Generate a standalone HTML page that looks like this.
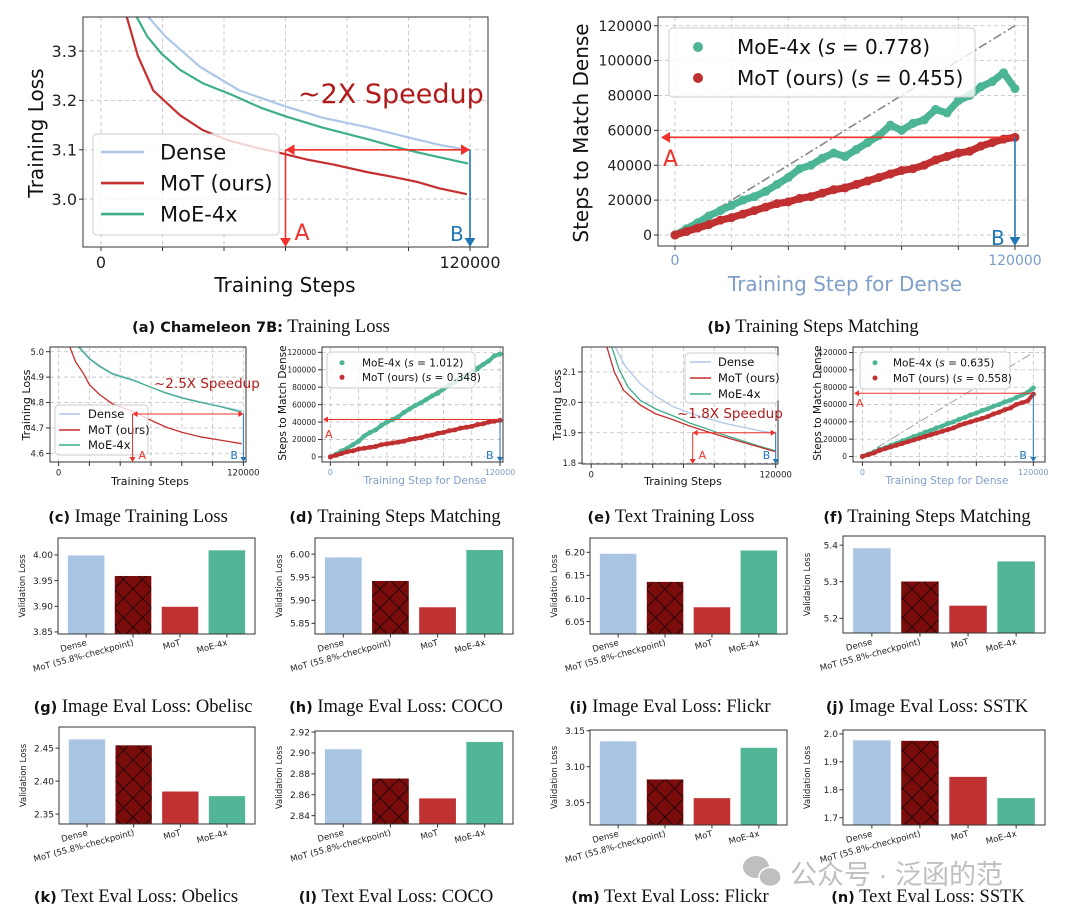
<!DOCTYPE html>
<html><head><meta charset="utf-8"><style>
html,body{margin:0;padding:0;background:#fff;}
svg{display:block;}
text{font-family:"DejaVu Sans","Liberation Sans",sans-serif;}
.cap{font-family:"Liberation Serif",serif;font-size:18.5px;fill:#111;}
.capb{font-family:"DejaVu Sans","Liberation Sans",sans-serif;font-weight:bold;font-size:14.5px;}
</style></head><body>
<svg id="fig" width="1080" height="914" viewBox="0 0 1080 914" xmlns="http://www.w3.org/2000/svg">
<defs>
<pattern id="hatch" patternUnits="userSpaceOnUse" width="19" height="19">
<rect width="19" height="19" fill="#7b0c0c"/>
<path d="M0,0 L19,19 M19,0 L0,19" stroke="#1a0000" stroke-width="0.9"/>
</pattern>
</defs>
<g>
<text class="cap" x="261" y="332" text-anchor="middle"><tspan class="capb">(a)  Chameleon 7B:</tspan> Training Loss</text>
<text class="cap" x="813" y="332" text-anchor="middle"><tspan class="capb">(b)</tspan>  Training Steps Matching</text>
<text class="cap" x="138" y="522" text-anchor="middle"><tspan class="capb">(c)</tspan>  Image Training Loss</text>
<text class="cap" x="395" y="522" text-anchor="middle"><tspan class="capb">(d)</tspan>  Training Steps Matching</text>
<text class="cap" x="671" y="522" text-anchor="middle"><tspan class="capb">(e)</tspan>  Text Training Loss</text>
<text class="cap" x="927" y="522" text-anchor="middle"><tspan class="capb">(f)</tspan>  Training Steps Matching</text>
<text class="cap" x="143" y="712" text-anchor="middle"><tspan class="capb">(g)</tspan>  Image Eval Loss:  Obelisc</text>
<text class="cap" x="396" y="712" text-anchor="middle"><tspan class="capb">(h)</tspan>  Image Eval Loss:  COCO</text>
<text class="cap" x="670" y="712" text-anchor="middle"><tspan class="capb">(i)</tspan>  Image Eval Loss:  Flickr</text>
<text class="cap" x="927" y="712" text-anchor="middle"><tspan class="capb">(j)</tspan>  Image Eval Loss:  SSTK</text>
<text class="cap" x="136" y="902" text-anchor="middle"><tspan class="capb">(k)</tspan>  Text Eval Loss:  Obelics</text>
<text class="cap" x="396" y="902" text-anchor="middle"><tspan class="capb">(l)</tspan>  Text Eval Loss:  COCO</text>
<text class="cap" x="670" y="902" text-anchor="middle"><tspan class="capb">(m)</tspan>  Text Eval Loss:  Flickr</text>
<text class="cap" x="928" y="902" text-anchor="middle"><tspan class="capb">(n)</tspan>  Text Eval Loss:  SSTK</text>
</g>
<g opacity="0.75">
<ellipse cx="756" cy="867" rx="13" ry="11" fill="#aaa"/>
<ellipse cx="770" cy="877" rx="11" ry="9.5" fill="#aaa" stroke="#fff" stroke-width="1.5"/>
<text x="790" y="884" font-size="27" fill="#aaa" style="font-family:'Liberation Sans','Noto Sans CJK SC',sans-serif">公众号 · 泛函的范</text>
</g>
</svg>
<script>
// ---------------- DATA ----------------
const aDenseX = [15.4,21,32.2,45,60.4,72,86.4,100,110,119];
const aDenseY = [3.369,3.329,3.268,3.22,3.187,3.165,3.146,3.125,3.11,3.10];
const aMotX = [8.4,12,17,25.7,33,40.9,50,59.3,67,75.6,86.4,95,102.7,110,119];
const aMotY = [3.369,3.29,3.22,3.17,3.14,3.12,3.105,3.092,3.08,3.07,3.055,3.045,3.035,3.022,3.01];
const aMoeX = [11.6,15,19.6,25.7,33,43.1,52,60.4,72,86.4,95,102.7,110,119.4];
const aMoeY = [3.369,3.33,3.295,3.262,3.235,3.21,3.185,3.167,3.145,3.122,3.107,3.095,3.085,3.072];
const aYTicks = ["3.0","3.1","3.2","3.3"];
const cDenseX = [13.8,20,26.8,35,48.5,60,70.2,80,91.8,105,118.9];
const cDenseY = [5.018,4.975,4.945,4.915,4.89,4.86,4.838,4.82,4.803,4.785,4.768];
const cMoeX = [13.0,20,26.8,35,48.5,60,70.2,80,91.8,105,118.9];
const cMoeY = [5.018,4.972,4.941,4.912,4.887,4.86,4.836,4.818,4.801,4.784,4.762];
const cMotX = [7.3,11,16,20,26.8,35,48.5,60,70.2,80,91.8,105,118.9];
const cMotY = [5.018,4.96,4.915,4.87,4.83,4.795,4.764,4.73,4.702,4.683,4.665,4.652,4.638];
const cYTicks = ["4.6","4.7","4.8","4.9","5.0"];
const eDenseX = [15.6,22,31.8,42,53.5,64,75.1,86,96.8,108,119.5];
const eDenseY = [2.182,2.12,2.062,2.02,1.985,1.965,1.947,1.932,1.920,1.908,1.898];
const eMotX = [10.2,15,21,31.8,42,53.5,64,75.1,86,96.8,108,119.5];
const eMotY = [2.182,2.10,2.040,1.991,1.962,1.942,1.922,1.904,1.887,1.871,1.855,1.838];
const eMoeX = [13.4,18,24,31.8,42,53.5,64,75.1,86,96.8,108,119.5];
const eMoeY = [2.182,2.11,2.05,2.007,1.978,1.955,1.932,1.913,1.893,1.876,1.858,1.841];
const eYTicks = ["1.8","1.9","2.0","2.1"];
const matchX = [0,4,8,12,16,20,24,28,32,36,40,44,48,52,56,60,64,68,72,76,80,84,88,92,96,100,104,108,112,116,120];
const bMoe = [0,3.5,7,11,14,17,20,22,25,29,33,38,40,44,47,45,49,53,57,63,60,64,66,72,70,77,80,85,88,93,84];
const bMot = [0,2,4,6,8.5,10,12,14,16,18,19,21,22,24,26,27,29,31,33,35,37,38,40,43,45,47,48,51,53,55,56];
const dMoe = [0,3,7,10,14,18,24,28,31,36,40,43,46,51,55,59,62,66,70,73,78,82,86,90,93,97,101,106,110,116,118];
const dMot = [0,2,4,6,7,9,10,11,12,14,15,16,17,18,20,21,22,24,25,27,28,30,31,33,34,35,37,38,40,41,42];
const fMoe = [0,2.5,5,8,10,13,15,18,20,23,25,28,30,33,35,38,40,43,45,48,50,53,55,58,60,63,65,68,71,74,79];
const fMot = [0,2,4,7,9,11,13,15,17,19,21,23,25,27,29,31,33,36,38,40,42,44,46,49,51,54,56,60,62,64,72];
const matchYTicks = ["0","20000","40000","60000","80000","100000","120000"];
const barCats = ["Dense","MoT (55.8%-checkpoint)","MoT","MoE-4x"];
const gVals = [4.00,3.96,3.90,4.01];
const hVals = [5.994,5.943,5.886,6.01];
const iVals = [6.198,6.137,6.082,6.205];
const jVals = [5.393,5.302,5.236,5.357];
const kVals = [2.464,2.455,2.385,2.378];
const lVals = [2.904,2.876,2.857,2.911];
const mVals = [3.136,3.083,3.057,3.127];
const nVals = [1.979,1.977,1.848,1.772];
const gTicks = ["3.85","3.90","3.95","4.00"];
const hTicks = ["5.85","5.90","5.95","6.00"];
const iTicks = ["6.05","6.10","6.15","6.20"];
const jTicks = ["5.2","5.3","5.4"];
const kTicks = ["2.35","2.40","2.45"];
const lTicks = ["2.84","2.86","2.88","2.90","2.92"];
const mTicks = ["3.05","3.10","3.15"];
const nTicks = ["1.7","1.8","1.9","2.0"];

// ---------------- DRAWING ----------------
const NS = "http://www.w3.org/2000/svg";
const svg = document.getElementById('fig');
function mk(tag, attrs, parent){
  const e = document.createElementNS(NS, tag);
  for (const k in attrs) e.setAttribute(k, attrs[k]);
  (parent || svg).appendChild(e);
  return e;
}
const C = {dense:"#aec7e8", mot:"#c62f2f", moe:"#3fae8a", dot_moe:"#4cb595", dot_mot:"#c03030", blue:"#1f77b4", red:"#f0302a", tick:"#7a9cc6"};
let clipId = 0;
function scales(P){
  return {
    sx: v => P.L + (v - P.xmin) / (P.xmax - P.xmin) * (P.R - P.L),
    sy: v => P.B - (v - P.ymin) / (P.ymax - P.ymin) * (P.B - P.T)
  };
}
function frame(P, g){
  const r = mk('rect', {x:P.L, y:P.T, width:P.R-P.L, height:P.B-P.T, fill:'none', stroke:'#333', 'stroke-width':1}, g);
  
  
}
function clip(P){
  clipId++;
  const cp = mk('clipPath', {id:'cp'+clipId});
  mk('rect', {x:P.L, y:P.T, width:P.R-P.L, height:P.B-P.T}, cp);
  return 'url(#cp'+clipId+')';
}
function gridAndTicks(P, g, yTicks, fs, xfs, xcolor){
  const s = scales(P);
  for (let v = 0; v <= 120; v += 20){
    const x = s.sx(v);
    const gl = mk('line', {x1:x, x2:x, y1:P.T, y2:P.B, stroke:'#c8c8c8', 'stroke-dasharray':'4,3', 'stroke-width':0.9}, g);
    
    
    mk('line', {x1:x, x2:x, y1:P.B, y2:P.B+4, stroke:'#333'}, g);
  }
  const t0 = mk('text', {x:s.sx(0), y:P.B+xfs+5, 'font-size':xfs, 'text-anchor':'middle', fill:xcolor}, g);
  t0.textContent = "0";
  
  
  const t1 = mk('text', {x:s.sx(120), y:P.B+xfs+5, 'font-size':xfs, 'text-anchor':'middle', fill:xcolor}, g);
  t1.textContent = "120000";
  
  
  yTicks.forEach(lbl => {
    const v = P.ydiv ? parseFloat(lbl) / P.ydiv : parseFloat(lbl);
    const y = s.sy(v);
    const gl = mk('line', {x1:P.L, x2:P.R, y1:y, y2:y, stroke:'#c8c8c8', 'stroke-dasharray':'4,3', 'stroke-width':0.9}, g);
    
    
    mk('line', {x1:P.L-4, x2:P.L, y1:y, y2:y, stroke:'#333'}, g);
    const t = mk('text', {x:P.L-6, y:y+fs*0.36, 'font-size':fs, 'text-anchor':'end', fill:'#222'}, g);
    t.textContent = lbl;
    
    
  });
}
function label(txt, x, y, fs, rot, color, g, name){
  const t = mk('text', {x:x, y:y, 'font-size':fs, 'text-anchor':'middle', fill:color||'#111',
    transform: rot ? 'rotate(-90 '+x+' '+y+')' : ''}, g);
  t.textContent = txt;
  
  
  return t;
}
function lineSeries(P, g, xs, ys, color, w, name){
  const s = scales(P);
  const pts = xs.map((x,i) => s.sx(x).toFixed(1)+','+s.sy(ys[i]).toFixed(1)).join(' ');
  const pl = mk('polyline', {points:pts, fill:'none', stroke:color, 'stroke-width':w, 'stroke-linejoin':'round', 'clip-path':P.cp}, g);
  
  
}
function scatterSeries(P, g, xs, ys, color, r, name){
  const s = scales(P);
  const sg = mk('g', {'clip-path':P.cp}, g);
  
  
  const pts = xs.map((x,i) => s.sx(x).toFixed(1)+','+s.sy(ys[i]).toFixed(1)).join(' ');
  mk('polyline', {points:pts, fill:'none', stroke:color, 'stroke-width':r*1.6, 'stroke-linejoin':'round', 'stroke-linecap':'round'}, sg);
  xs.forEach((x,i) => {
    const c = mk('circle', {cx:s.sx(x), cy:s.sy(ys[i]), r:r, fill:color}, sg);
    
    
  });
}
function arrowHead(x, y, dir, size, color, g){
  let p;
  if (dir==='down') p = [[x,y],[x-size*0.6,y-size],[x+size*0.6,y-size]];
  if (dir==='left') p = [[x,y],[x+size,y-size*0.6],[x+size,y+size*0.6]];
  if (dir==='right') p = [[x,y],[x-size,y-size*0.6],[x-size,y+size*0.6]];
  const a = mk('polygon', {points:p.map(q=>q.join(',')).join(' '), fill:color}, g);
  
  
}
function ln(x1,y1,x2,y2,color,w,g,name){
  const l = mk('line', {x1:x1,y1:y1,x2:x2,y2:y2,stroke:color,'stroke-width':w}, g);
  
  
}
function hand(txt, x, y, fs, color, g, name){
  const t = mk('text', {x:x, y:y, 'font-size':fs, fill:color, 'font-family':'"Liberation Sans Narrow","Liberation Sans",sans-serif'}, g);
  t.textContent = txt;
  
  
}
function legendLines(g, box, items, fs, lx, tx, ys){
  const r = mk('rect', {x:box[0], y:box[1], width:box[2], height:box[3], rx:4, fill:'#fff', 'fill-opacity':0.8, stroke:'#ccc'}, g);
  
  
  items.forEach((it,i) => {
    const l = mk('line', {x1:lx[0], x2:lx[1], y1:ys[i], y2:ys[i], stroke:it[1], 'stroke-width':fs/8}, g);
    
    
    const t = mk('text', {x:tx, y:ys[i]+fs*0.36, 'font-size':fs, fill:'#111'}, g);
    t.textContent = it[0];
    
    
  });
}
function legendDots(g, box, items, fs, dx, tx, ys, r){
  const rc = mk('rect', {x:box[0], y:box[1], width:box[2], height:box[3], rx:4, fill:'#fff', 'fill-opacity':0.8, stroke:'#ccc'}, g);
  
  
  items.forEach((it,i) => {
    const c = mk('circle', {cx:dx, cy:ys[i], r:r, fill:it[2]}, g);
    
    
    const t = mk('text', {x:tx, y:ys[i]+fs*0.36, 'font-size':fs, fill:'#111'}, g);
    
    
    const t1 = mk('tspan', {}, t); t1.textContent = it[0] + ' (';
    const t2 = mk('tspan', {'font-style':'italic'}, t); t2.textContent = 's';
    const t3 = mk('tspan', {}, t); t3.textContent = ' = ' + it[1] + ')';
  });
}
function lossPanel(P, name, yTicks, series, fs, xfs, labels){
  const g = mk('g', {});
  
  
  P.cp = clip(P);
  gridAndTicks(P, g, yTicks, fs, xfs, '#222');
  series.forEach(sr => lineSeries(P, g, sr[0], sr[1], sr[2], sr[3], sr[4]));
  frame(P, g);
  label('Training Steps', labels.xl[0], labels.xl[1], labels.xfs, false, '#111', g, 'x-axis-title');
  label('Training Loss', labels.yl[0], labels.yl[1], labels.xfs, true, '#111', g, 'y-axis-title');
  return g;
}
function matchPanel(P, name, moe, mot, r, fs, xfs, labels){
  const g = mk('g', {});
  
  
  P.cp = clip(P);
  P.ydiv = 1000;
  gridAndTicks(P, g, matchYTicks, fs, xfs, C.tick);
  const s = scales(P);
  const d = mk('line', {x1:s.sx(0), y1:s.sy(0), x2:s.sx(120), y2:s.sy(120), stroke:'#888', 'stroke-width':labels.dw, 'stroke-dasharray':'9,3,2,3', 'clip-path':P.cp}, g);
  
  
  scatterSeries(P, g, matchX, moe, C.dot_moe, r, 'moe-4x-points');
  scatterSeries(P, g, matchX, mot, C.dot_mot, r, 'mot-points');
  frame(P, g);
  label('Training Step for Dense', labels.xl[0], labels.xl[1], labels.xfs, false, '#7f9fc8', g, 'x-axis-title');
  label('Steps to Match Dense', labels.yl[0], labels.yl[1], labels.xfs, true, '#111', g, 'y-axis-title');
  return g;
}

// (a)
const PA = {L:83,R:488,T:17,B:247,xmin:-5.854,xmax:125.854,ymin:2.903,ymax:3.369};
const gA = lossPanel(PA, 'panel-a-training-loss', aYTicks,
  [[aDenseX,aDenseY,C.dense,2.2,'dense-line'],[aMoeX,aMoeY,C.moe,2.2,'moe-4x-line'],[aMotX,aMotY,C.mot,2.2,'mot-line']],
  16, 16, {xl:[285,292], yl:[43,133], xfs:20});
legendLines(gA, [93,134,186,101], [['Dense',C.dense],['MoT (ours)',C.mot],['MoE-4x',C.moe]], 21, [101,144], 160, [152,183,214]);
(function(){
  const s = scales(PA); const xa = s.sx(60), xb = s.sx(120), y = s.sy(3.1);
  ln(xa,y,xb,y,C.red,1.6,gA,'speedup-arrow');
  arrowHead(xa,y,'left',9,C.red,gA); arrowHead(xb,y,'right',9,C.red,gA);
  ln(xa,y,xa,PA.B-2,C.red,1.6,gA,'a-arrow'); arrowHead(xa,PA.B,'down',9,C.red,gA);
  ln(xb,y,xb,PA.B-2,C.blue,1.6,gA,'b-arrow'); arrowHead(xb,PA.B,'down',9,C.blue,gA);
  hand('A', xa+9, 240, 22, C.red, gA, 'label-A');
  hand('B', xb-20, 241, 20, C.blue, gA, 'label-B');
  hand('~2X Speedup', 298, 103, 27, '#b01a1a', gA, 'speedup-annotation');
})();

// (b)
const PB = {L:658,R:1028,T:17,B:246,xmin:-6,xmax:124.6,ymin:-6.3,ymax:125};
const gB = matchPanel(PB, 'panel-b-steps-matching', bMoe, bMot, 4.5, 14, 14, {xl:[845,291], yl:[588,133], xfs:20, dw:1.6});
legendDots(gB, [669,28,306,69], [['MoE-4x','0.778',C.dot_moe],['MoT (ours)','0.455',C.dot_mot]], 20, 698, 737, [47,78], 5);
(function(){
  const s = scales(PB); const xb = s.sx(120), y = s.sy(56);
  ln(PB.L+10,y,xb,y,C.red,1.6,gB,'a-arrow'); arrowHead(PB.L+3,y,'left',9,C.red,gB);
  ln(xb,y,xb,PB.B-2,C.blue,1.6,gB,'b-arrow'); arrowHead(xb,PB.B,'down',9,C.blue,gB);
  hand('A', PB.L+5, 166, 22, C.red, gB, 'label-A');
  hand('B', xb-24, 245, 20, C.blue, gB, 'label-B');
})();

// (c)
const PCc = {L:50,R:246,T:347,B:462,xmin:-5.6,xmax:121.7,ymin:4.566,ymax:5.0185};
const gC = lossPanel(PCc, 'panel-c-image-training-loss', cYTicks,
  [[cDenseX,cDenseY,C.dense,1.3,'dense-line'],[cMoeX,cMoeY,C.moe,1.3,'moe-4x-line'],[cMotX,cMotY,C.mot,1.3,'mot-line']],
  8.5, 8.5, {xl:[150,485], yl:[30,405], xfs:11});
legendLines(gC, [55,405,93,50], [['Dense',C.dense],['MoT (ours)',C.mot],['MoE-4x',C.moe]], 11.5, [59,80], 88, [414,430,445]);
(function(){
  const s = scales(PCc); const xa = s.sx(48), xb = s.sx(120), y = 414;
  ln(xa,y,xb,y,C.red,1,gC,'speedup-arrow');
  arrowHead(xa,y,'left',5,C.red,gC); arrowHead(xb,y,'right',5,C.red,gC);
  ln(xa,y,xa,PCc.B-2,C.red,1,gC,'a-arrow'); arrowHead(xa,PCc.B,'down',5,C.red,gC);
  ln(xb,y,xb,PCc.B-2,C.blue,1,gC,'b-arrow'); arrowHead(xb,PCc.B,'down',5,C.blue,gC);
  hand('A', xa+6, 459, 11, C.red, gC, 'label-A');
  hand('B', xb-13, 459, 11, C.blue, gC, 'label-B');
  hand('~2.5X Speedup', 154, 388, 13.5, '#b01a1a', gC, 'speedup-annotation');
})();

// (d)
const PD = {L:322,R:503,T:347,B:462,xmin:-5.9,xmax:122.1,ymin:-5.8,ymax:126.1};
const gD = matchPanel(PD, 'panel-d-steps-matching', dMoe, dMot, 2.5, 7.5, 8, {xl:[425,484], yl:[286,403], xfs:10.5, dw:1});
legendDots(gD, [327,352,148,36], [['MoE-4x','1.012',C.dot_moe],['MoT (ours)','0.348',C.dot_mot]], 10.5, 342, 362, [362.7,377.3], 2.5);
(function(){
  const s = scales(PD); const xb = s.sx(120), y = s.sy(43);
  ln(PD.L+6,y,xb,y,C.red,1,gD,'a-arrow'); arrowHead(PD.L+1,y,'left',5,C.red,gD);
  ln(xb,y,xb,PD.B-2,C.blue,1,gD,'b-arrow'); arrowHead(xb,PD.B,'down',5,C.blue,gD);
  hand('A', PD.L+3, 438, 11, C.red, gD, 'label-A');
  hand('B', xb-14, 459, 11, C.blue, gD, 'label-B');
})();

// (e)
const PE = {L:582,R:778,T:347,B:464,xmin:-6,xmax:121.5,ymin:1.797,ymax:2.182};
const gE = lossPanel(PE, 'panel-e-text-training-loss', eYTicks,
  [[eDenseX,eDenseY,C.dense,1.3,'dense-line'],[eMoeX,eMoeY,C.moe,1.3,'moe-4x-line'],[eMotX,eMotY,C.mot,1.3,'mot-line']],
  8.5, 8.5, {xl:[683,485], yl:[561,405], xfs:11});
legendLines(gE, [685,353,93,50], [['Dense',C.dense],['MoT (ours)',C.mot],['MoE-4x',C.moe]], 11.5, [690,711], 718, [362,378,394]);
(function(){
  const s = scales(PE); const xa = s.sx(66), xb = s.sx(120), y = s.sy(1.9);
  ln(xa,y,xb,y,C.red,1,gE,'speedup-arrow');
  arrowHead(xa,y,'left',5,C.red,gE); arrowHead(xb,y,'right',5,C.red,gE);
  ln(xa,y,xa,PE.B-2,C.red,1,gE,'a-arrow'); arrowHead(xa,PE.B,'down',5,C.red,gE);
  ln(xb,y,xb,PE.B-2,C.blue,1,gE,'b-arrow'); arrowHead(xb,PE.B,'down',5,C.blue,gE);
  hand('A', xa+6, 459, 11, C.red, gE, 'label-A');
  hand('B', xb-13, 459, 11, C.blue, gE, 'label-B');
  hand('~1.8X Speedup', 677, 418, 13.5, '#b01a1a', gE, 'speedup-annotation');
})();

// (f)
const PF = {L:853,R:1045,T:347,B:462,xmin:-6.6,xmax:128.2,ymin:-6.4,ymax:126.4};
const gF = matchPanel(PF, 'panel-f-steps-matching', fMoe, fMot, 2.5, 7.5, 8, {xl:[947,484], yl:[821,403], xfs:10.5, dw:0.8});
legendDots(gF, [860,352,150,37], [['MoE-4x','0.635',C.dot_moe],['MoT (ours)','0.558',C.dot_mot]], 10.5, 875, 893, [362.7,378], 2.5);
(function(){
  const s = scales(PF); const xb = s.sx(120), y = s.sy(73);
  ln(PF.L+6,y,xb,y,C.red,1,gF,'a-arrow'); arrowHead(PF.L+1,y,'left',5,C.red,gF);
  ln(xb,y,xb,PF.B-2,C.blue,1,gF,'b-arrow'); arrowHead(xb,PF.B,'down',5,C.blue,gF);
  hand('A', PF.L+3, 407, 11, C.red, gF, 'label-A');
  hand('B', xb-14, 459, 11, C.blue, gF, 'label-B');
})();

// ---- Bar panels ----
const barFill = ['#aac4e4','url(#hatch)','#c03232','#52b597'];
function barPanel(P, name, vals, ticks){
  const g = mk('g', {});
  
  
  const cp = clip(P);
  const sx = i => P.L + (i + 0.6) / 4.2 * (P.R - P.L);
  const sy = v => P.B - (v - P.ymin) / (P.ymax - P.ymin) * (P.B - P.T);
  const bw = 0.8 / 4.2 * (P.R - P.L);
  vals.forEach((v,i) => {
    const y = sy(v);
    const b = mk('rect', {x:sx(i)-bw/2, y:y, width:bw, height:P.B-y+2, fill:barFill[i], stroke:'#fff', 'stroke-width':1, 'clip-path':cp}, g);
    
    
  });
  frame(P, g);
  barCats.forEach((c,i) => {
    const x = sx(i);
    mk('line', {x1:x, x2:x, y1:P.B, y2:P.B+3.5, stroke:'#333'}, g);
    const t = mk('text', {x:x+1, y:P.B+11, 'font-size':8.5, 'text-anchor':'end', fill:'#222', transform:'rotate(-15 '+(x+1)+' '+(P.B+11)+')'}, g);
    t.textContent = c;
    
    
  });
  ticks.forEach(lbl => {
    const y = sy(parseFloat(lbl));
    mk('line', {x1:P.L-3.5, x2:P.L, y1:y, y2:y, stroke:'#333'}, g);
    const t = mk('text', {x:P.L-5, y:y+3.3, 'font-size':9, 'text-anchor':'end', fill:'#222'}, g);
    t.textContent = lbl;
    
    
  });
  label('Validation Loss', P.L-33, (P.T+P.B)/2, 8.5, true, '#222', g, 'y-axis-title');
}
barPanel({L:58,R:255,T:538,B:634,ymin:3.846,ymax:4.033}, 'panel-g-obelisc', gVals, gTicks);
barPanel({L:315,R:513,T:538,B:634,ymin:5.827,ymax:6.035}, 'panel-h-coco', hVals, hTicks);
barPanel({L:590,R:787,T:538,B:634,ymin:6.023,ymax:6.231}, 'panel-i-flickr', iVals, iTicks);
barPanel({L:843,R:1045,T:536,B:633,ymin:5.160,ymax:5.425}, 'panel-j-sstk', jVals, jTicks);
barPanel({L:59,R:255,T:727,B:824,ymin:2.335,ymax:2.482}, 'panel-k-obelics', kVals, kTicks);
barPanel({L:315,R:513,T:731,B:824,ymin:2.832,ymax:2.921}, 'panel-l-coco', lVals, lTicks);
barPanel({L:590,R:787,T:730,B:825,ymin:3.019,ymax:3.151}, 'panel-m-flickr', mVals, mTicks);
barPanel({L:843,R:1045,T:730,B:825,ymin:1.674,ymax:2.014}, 'panel-n-sstk', nVals, nTicks);
</script>
</body></html>
